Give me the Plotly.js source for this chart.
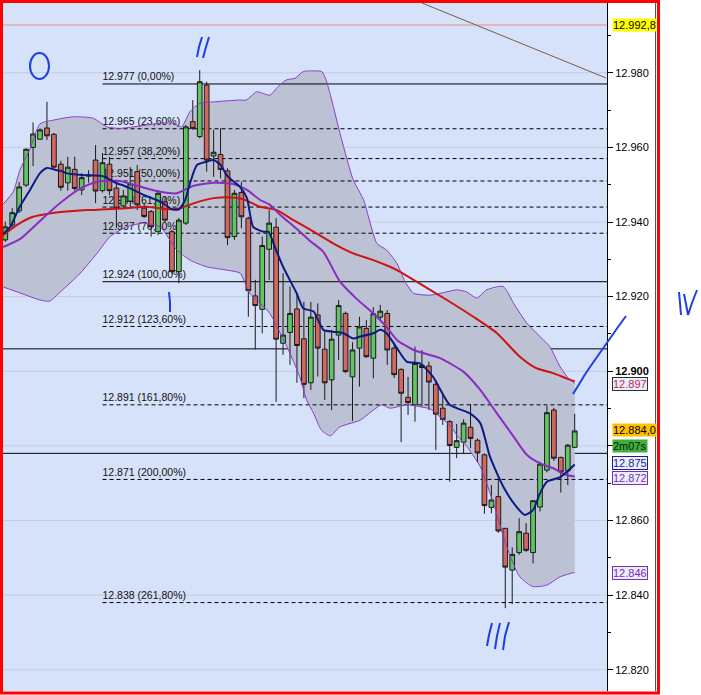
<!DOCTYPE html>
<html><head><meta charset="utf-8">
<script src="https://cdn.plot.ly/plotly-3.0.1.min.js"></script>
<style>html,body{margin:0;padding:0;background:#fff;}</style>
</head><body><div id="chart" style="width:701px;height:695px;"></div>
<script>
// ---------- DATA ----------
const candleX = [0,1,2,3,4,5,6,7,8,9,10,11,12,13,14,15,16,17,18,19,20,21,22,23,24,25,26,27,28,29,30,31,32,33,34,35,36,37,38,39,40,41,42,43,44,45,46,47,48,49,50,51,52,53,54,55,56,57,58,59,60,61,62,63,64,65,66,67,68,69,70,71,72,73,74,75,76,77,78,79,80,81,82];
const openP = [12.9352,12.9392,12.9430,12.9499,12.9600,12.9622,12.9652,12.9635,12.9555,12.9505,12.9541,12.9486,12.9523,12.9566,12.9484,12.9555,12.9491,12.9443,12.9456,12.9535,12.9437,12.9428,12.9374,12.9454,12.9374,12.9267,12.9397,12.9669,12.9629,12.9767,12.9577,12.9581,12.9537,12.9361,12.9479,12.9410,12.9202,12.9166,12.9327,12.9386,12.9075,12.9104,12.9167,12.9087,12.8969,12.9151,12.9059,12.8977,12.9097,12.9155,12.8985,12.9062,12.9115,12.9035,12.9145,12.9155,12.9062,12.9005,12.8930,12.8910,12.9016,12.9014,12.8965,12.8901,12.8865,12.8796,12.8810,12.8850,12.8815,12.8776,12.8635,12.8664,12.8579,12.8467,12.8514,12.8566,12.8514,12.8636,12.8735,12.8896,12.8769,12.8733,12.8796];
const highP = [12.9401,12.9437,12.9507,12.9598,12.9667,12.9651,12.9722,12.9639,12.9564,12.9575,12.9575,12.9531,12.9539,12.9606,12.9585,12.9574,12.9513,12.9486,12.9547,12.9553,12.9451,12.9432,12.9486,12.9467,12.9379,12.9411,12.9660,12.9727,12.9807,12.9776,12.9647,12.9651,12.9544,12.9486,12.9508,12.9414,12.9245,12.9361,12.9432,12.9410,12.9263,12.9227,12.9210,12.9186,12.9186,12.9182,12.9111,12.9111,12.9191,12.9160,12.9078,12.9146,12.9137,12.9172,12.9178,12.9164,12.9070,12.9008,12.8985,12.9066,12.9057,12.9026,12.8977,12.8936,12.8869,12.8859,12.8871,12.8912,12.8820,12.8780,12.8695,12.8717,12.8579,12.8528,12.8606,12.8593,12.8655,12.8758,12.8907,12.8902,12.8771,12.8805,12.8886];
const lowP = [12.9347,12.9383,12.9424,12.9494,12.9550,12.9620,12.9620,12.9545,12.9484,12.9484,12.9484,12.9472,12.9505,12.9451,12.9479,12.9472,12.9384,12.9438,12.9440,12.9432,12.9411,12.9361,12.9365,12.9400,12.9261,12.9236,12.9392,12.9647,12.9624,12.9535,12.9521,12.9517,12.9338,12.9352,12.9383,12.9146,12.9059,12.9102,12.9245,12.8918,12.9044,12.9017,12.8969,12.8928,12.8950,12.8986,12.8923,12.8896,12.9030,12.8995,12.8867,12.8959,12.9036,12.8981,12.9137,12.9017,12.8982,12.8810,12.8883,12.8865,12.8905,12.8896,12.8789,12.8856,12.8704,12.8767,12.8780,12.8794,12.8755,12.8618,12.8619,12.8567,12.8365,12.8376,12.8508,12.8516,12.8485,12.8624,12.8729,12.8760,12.8675,12.8695,12.8794];
const closeP = [12.9387,12.9425,12.9494,12.9595,12.9636,12.9647,12.9631,12.9547,12.9493,12.9547,12.9490,12.9519,12.9526,12.9483,12.9559,12.9484,12.9437,12.9470,12.9502,12.9446,12.9415,12.9387,12.9477,12.9405,12.9267,12.9405,12.9655,12.9651,12.9776,12.9566,12.9587,12.9541,12.9358,12.9477,12.9414,12.9216,12.9176,12.9337,12.9397,12.9086,12.9097,12.9155,12.9069,12.8965,12.9145,12.9062,12.8969,12.9086,12.9176,12.8999,12.9057,12.9119,12.9039,12.9154,12.9161,12.9057,12.8991,12.8941,12.8916,12.9021,12.9010,12.8971,12.8885,12.8871,12.8801,12.8814,12.8861,12.8820,12.8781,12.8640,12.8655,12.8572,12.8475,12.8509,12.8570,12.8520,12.8653,12.8751,12.8889,12.8767,12.8730,12.8802,12.8840];

// fast moving average (blue)
const maFastX = [-0.3,0.7,2,3.56,5,6,7.4,8,8.8,11,14,16,17,18,20,21.8,23,24,25,25.9,26.6,27.6,29,30,31,32,33.8,34.8,35.7,37.2,37.9,38.8,40,41.96,42.9,44.4,45.8,47.2,48.7,50.1,51.1,53,54,54.9,56.4,57.8,59.7,61.6,64,66.9,68.4,69.8,71.7,73.6,74.8,76,77,78,79.9,82];
const maFastY = [12.9368,12.9387,12.9438,12.9486,12.9531,12.9545,12.9539,12.9537,12.9531,12.9526,12.9523,12.9504,12.9498,12.9490,12.9472,12.9459,12.9447,12.9434,12.9434,12.9459,12.9504,12.9553,12.9562,12.9566,12.9553,12.9523,12.9494,12.9464,12.9387,12.9374,12.9374,12.9334,12.9280,12.9209,12.9169,12.9160,12.9111,12.9106,12.9102,12.9088,12.9093,12.9102,12.9111,12.9102,12.9062,12.9026,12.9021,12.8985,12.8910,12.8887,12.8861,12.8771,12.8691,12.8637,12.8615,12.8628,12.8673,12.8704,12.8716,12.8750];
// Bollinger middle (purple)
const bbMidX = [-0.3,2.1,5,7.9,11.2,13.6,16.5,19.4,22.3,24.7,27.1,30,32.8,34.8,36.7,38.1,39.6,42,43.9,45.8,48.2,50.6,53,54.9,56.4,58.8,62.6,65.96,68.4,70.8,73.2,75.1,77,78.9,80.8,82];
const bbMidY = [12.9333,12.9354,12.9403,12.9451,12.9494,12.9509,12.9510,12.9495,12.9481,12.9477,12.9497,12.9505,12.9502,12.9486,12.9459,12.9446,12.9419,12.9381,12.9349,12.9320,12.9240,12.9194,12.9155,12.9119,12.9084,12.9057,12.9035,12.8999,12.8950,12.8887,12.8825,12.8776,12.8753,12.8740,12.8722,12.8718];
// slow moving average (red)
const maSlowX = [-0.3,0.7,2.1,4,6.4,8.8,11.7,14.6,17.5,20.4,23.2,25.2,27.1,30,32.8,34.3,36.7,39.1,41.5,44.4,47.2,50.1,53,55.4,56.8,58.8,63.6,67.4,70.8,74.1,76.5,78.9,80.8,82];
const maSlowY = [12.9365,12.9379,12.9397,12.9414,12.9423,12.9428,12.9432,12.9434,12.9437,12.9441,12.9434,12.9437,12.9450,12.9464,12.9466,12.9461,12.9441,12.9432,12.9405,12.9374,12.9343,12.9316,12.9298,12.9280,12.9267,12.9245,12.9191,12.9146,12.9102,12.9039,12.9008,12.8995,12.8981,12.8973];
// Bollinger upper
const bbUpX = [-0.3,1.15,2.1,3.6,5,6.9,9.8,12.7,14.6,16.5,18.4,20.4,22.3,24.2,25.4,26.6,28,30,33.8,34.7,36.2,38.1,39.3,40.5,41.7,42.9,44.7,45.6,46.2,47,48.2,50.1,51.6,53.5,54.9,56.4,57.6,58.8,61.2,63.6,65,66.4,67.9,69.3,71.7,73.2,75.1,77,78.4,79.9,81.1,82];
const bbUpY = [12.9448,12.9481,12.9539,12.9598,12.9663,12.9673,12.9682,12.9678,12.9655,12.9651,12.9655,12.9660,12.9665,12.9665,12.9655,12.9696,12.9718,12.9722,12.9727,12.9727,12.9749,12.9740,12.9763,12.9781,12.9785,12.9803,12.9805,12.9803,12.9781,12.9727,12.9638,12.9513,12.9459,12.9343,12.9325,12.9289,12.9239,12.9209,12.9204,12.9213,12.9218,12.9213,12.9196,12.9218,12.9227,12.9182,12.9129,12.9093,12.9066,12.9012,12.8981,12.8968];
// Bollinger lower
const bbLowX = [-0.3,2.1,5,6.4,7.9,10.8,13.2,15.1,17.5,19.9,22.3,24.7,26.6,29,31.9,33.8,35.2,36.7,38.1,39.6,41,42.4,43.4,44.4,45.5,46.8,48.2,51.1,53,54.2,55.4,57.8,59.7,61.2,62.6,64,65.2,66.4,68.4,70.3,72.2,74.1,76,78,79.9,81.8,82];
const bbLowY = [12.9226,12.9210,12.9191,12.9188,12.9212,12.9263,12.9316,12.9361,12.9387,12.9397,12.9387,12.9325,12.9298,12.9280,12.9271,12.9263,12.9209,12.9182,12.9155,12.9102,12.9048,12.8985,12.8923,12.8887,12.8843,12.8827,12.8851,12.8869,12.8896,12.8910,12.8901,12.8910,12.8905,12.8899,12.8878,12.8856,12.8824,12.8800,12.8744,12.8646,12.8530,12.8449,12.8423,12.8427,12.8449,12.8460,12.8460];

// Fibonacci retracement
const fibLevels = [12.977,12.965,12.957,12.951,12.944,12.937,12.924,12.912,12.891,12.871,12.838];
const fibPct = ['0,00%','23,60%','38,20%','50,00%','61,80%','76,40%','100,00%','123,60%','161,80%','200,00%','261,80%'];
const fibSolid = [true,false,false,false,false,false,true,false,false,false,false];
const fibStartX = 14;
// other horizontal levels
const solidLevels = [12.906, 12.878];
const alertLevel = 12.9928;
// trend line (two anchor points)
const trendX = [58.96, 86.51];
const trendY = [12.9995, 12.9786];

// axis ticks
const yTickVals = [12.82,12.84,12.86,12.88,12.90,12.92,12.94,12.96,12.98];
const yTickText = ['12.820','12.840','12.860','','<b>12.900</b>','12.920','12.940','12.960','12.980'];
const yMinorVals = [12.83,12.85,12.87,12.89,12.91,12.93,12.95,12.97,12.99];

// price labels on the right scale
const sideText = ['12.992,8','12.897','12.884,0','2m07s','12.875','12.872','12.846'];
const sideY    = [12.9928,12.8965,12.8842,12.8801,12.8754,12.8714,12.846];
const sideBg   = ['#ffff00','#e9eefb','#ffc000','#3fae3f','#e9eefb','#e9eefb','#e9eefb'];
const sideFg   = ['#000000','#c8284a','#000000','#0a1a0a','#1c1c96','#7a2db8','#7a2db8'];
const sideBd   = ['rgba(0,0,0,0)','#303030','rgba(0,0,0,0)','rgba(0,0,0,0)','#1c1c96','#7a2db8','#7a2db8'];

// ---------- LAYOUT GEOMETRY ----------
const W = 701, H = 695;
const M = {l:3, r:94, t:3, b:4};
const pw = W - M.l - M.r, ph = H - M.t - M.b;
const PX = x => (x - M.l) / pw;
const PY = y => (H - M.b - y) / ph;
const FONT = 'Liberation Sans, Arial, sans-serif';
const HAND = '#1f3fe0';

const shapes = [];
// Bollinger band fill (path in data coordinates)
let path = 'M ' + bbUpX.map((x,i)=> x + ',' + bbUpY[i]).join(' L ');
for (let i = bbLowX.length - 1; i >= 0; i--) path += ' L ' + bbLowX[i] + ',' + bbLowY[i];
path += ' Z';
shapes.push({type:'path', xref:'x', yref:'y', path:path, fillcolor:'#bcc2d4', line:{width:0}, layer:'between'});
// grid lines
yTickVals.forEach(v => shapes.push({type:'line', xref:'paper', yref:'y', x0:0, x1:1, y0:v, y1:v, line:{color:'#c4cce0', width:1}, layer:'between'}));
// alert line
shapes.push({type:'line', xref:'paper', yref:'y', x0:0, x1:1, y0:alertLevel, y1:alertLevel, line:{color:'#f08a8a', width:1}, layer:'between'});
// solid levels
solidLevels.forEach(v => shapes.push({type:'line', xref:'paper', yref:'y', x0:0, x1:1, y0:v, y1:v, line:{color:'#000', width:1}, layer:'between'}));
// fib lines with labels
fibLevels.forEach((v,i) => shapes.push({type:'line', xref:'x', yref:'y', x0:fibStartX, x1:90, y0:v, y1:v,
  line:{color:'#000', width:1, dash: fibSolid[i] ? 'solid' : '4px,3px'}, layer:'between',
  label:{text: v.toFixed(3) + ' (' + fibPct[i] + ')', textposition:'start', xanchor:'left', yanchor:'bottom', padding:2,
         font:{family:FONT, size:10.5, color:'#111'}}}));
// trend line
shapes.push({type:'line', xref:'x', yref:'y', x0:trendX[0], x1:trendX[1], y0:trendY[0], y1:trendY[1], line:{color:'#7a5c40', width:1}, layer:'between'});

// hand-drawn marks
const stroke = pts => ({type:'path', xref:'paper', yref:'paper', layer:'above',
  path: 'M ' + pts.map(p => PX(p[0]) + ',' + PY(p[1])).join(' L '), line:{color:HAND, width:2}});
shapes.push({type:'circle', xref:'paper', yref:'paper', x0:PX(30), x1:PX(49), y0:PY(79), y1:PY(53), line:{color:HAND, width:2}, layer:'above'});
shapes.push(stroke([[197,57],[199,47],[202,37]]));
shapes.push(stroke([[203,58],[206,47],[209,37]]));
shapes.push(stroke([[169,292],[170,302],[170,312]]));
shapes.push(stroke([[487,646],[489,635],[492,623]]));
shapes.push(stroke([[495,649],[497,636],[500,623]]));
shapes.push(stroke([[503,650],[505,636],[509,622]]));
shapes.push(stroke([[679,292],[680,303],[681,315]]));
shapes.push(stroke([[684,294],[686,304],[688,315],[692,303],[697,290]]));
shapes.push(stroke([[573,394],[578,386],[584,376],[590,367],[597,357],[604,347],[611,337],[618,327],[626,316]]));
// frame
shapes.push({type:'line', xref:'paper', yref:'paper', x0:PX(655.5), x1:PX(655.5), y0:PY(691), y1:PY(3), line:{color:'#555', width:1}, layer:'above'});
shapes.push({type:'rect', xref:'paper', yref:'paper', x0:PX(1.5), x1:PX(658.5), y0:PY(693), y1:PY(1.5), line:{color:'#ff0000', width:3}, layer:'above'});

const annotations = sideText.map((t,i) => ({
  xref:'paper', yref:'y', x:PX(611.5), y:sideY[i], xanchor:'left', yanchor:'middle', showarrow:false,
  text:t, font:{family:FONT, size:11, color:sideFg[i]}, bgcolor:sideBg[i], bordercolor:sideBd[i], borderwidth:1, borderpad:0
}));

const traces = [
  {type:'candlestick', x:candleX, open:openP, high:highP, low:lowP, close:closeP,
   increasing:{line:{color:'#1a1a1a', width:1}, fillcolor:'#62c462'},
   decreasing:{line:{color:'#1a1a1a', width:1}, fillcolor:'#d0685f'},
   whiskerwidth:0, hoverinfo:'skip', showlegend:false},
  {type:'scatter', mode:'lines', x:bbUpX, y:bbUpY, line:{color:'#8c3cc8', width:1, shape:'spline', smoothing:0.6}, showlegend:false, hoverinfo:'skip'},
  {type:'scatter', mode:'lines', x:bbLowX, y:bbLowY, line:{color:'#8c3cc8', width:1, shape:'spline', smoothing:0.6}, showlegend:false, hoverinfo:'skip'},
  {type:'scatter', mode:'lines', x:maSlowX, y:maSlowY, line:{color:'#cc1414', width:2, shape:'spline', smoothing:0.6}, showlegend:false, hoverinfo:'skip'},
  {type:'scatter', mode:'lines', x:bbMidX, y:bbMidY, line:{color:'#8a2cc0', width:2, shape:'spline', smoothing:0.6}, showlegend:false, hoverinfo:'skip'},
  {type:'scatter', mode:'lines', x:maFastX, y:maFastY, line:{color:'#0c1a86', width:2, shape:'spline', smoothing:0.6}, showlegend:false, hoverinfo:'skip'}
];

const layout = {
  width:W, height:H, margin:M, autosize:false,
  paper_bgcolor:'#ffffff', plot_bgcolor:'#d6e2fa',
  font:{family:FONT, size:11, color:'#000'},
  showlegend:false, boxgap:0.2, boxgroupgap:0.15,
  xaxis:{type:'linear', range:[-0.33, 86.65], showgrid:false, zeroline:false, showticklabels:false, ticks:'', showline:false, rangeslider:{visible:false}, fixedrange:true},
  yaxis:{side:'right', range:[12.8143, 12.9987], tickmode:'array', tickvals:yTickVals, ticktext:yTickText,
         showgrid:false, zeroline:false, showline:true, linecolor:'#000', linewidth:1,
         ticks:'outside', ticklen:5, tickcolor:'#000', tickfont:{family:FONT, size:11, color:'#000'},
         minor:{tickvals:yMinorVals, ticks:'outside', ticklen:3, tickcolor:'#000', showgrid:false}, fixedrange:true},
  shapes:shapes, annotations:annotations
};

Plotly.newPlot('chart', traces, layout, {staticPlot:true, displayModeBar:false});
</script>
</body></html>
